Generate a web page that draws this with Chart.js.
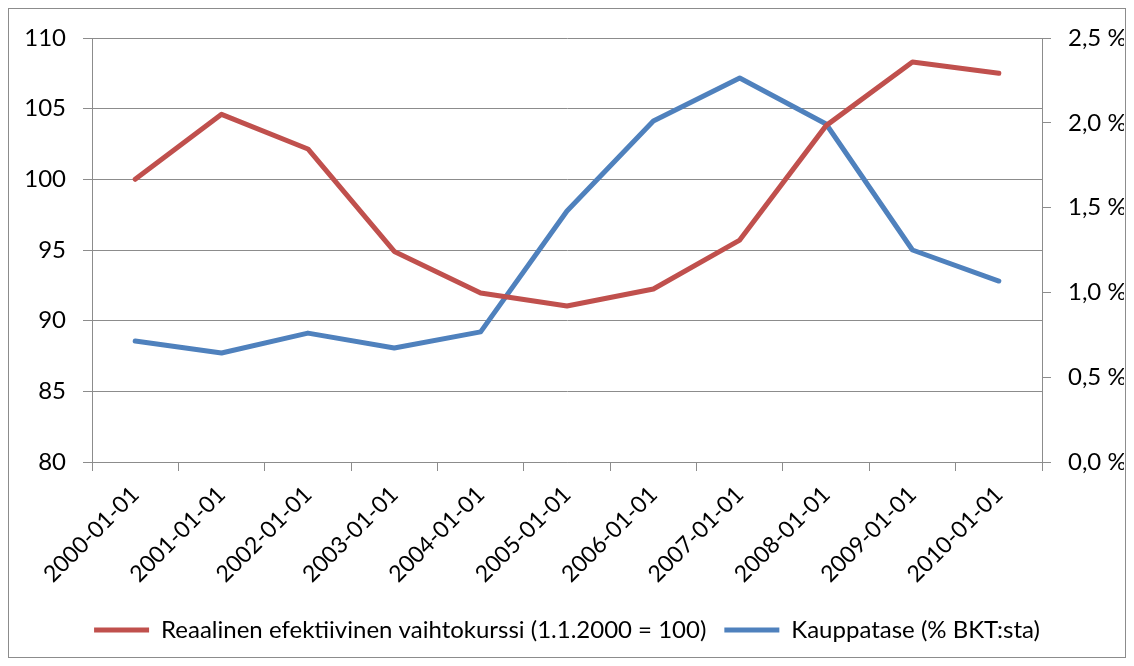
<!DOCTYPE html>
<html>
<head>
<meta charset="utf-8">
<script src="https://cdn.jsdelivr.net/npm/chart.js@4"></script>
<style>
html,body{margin:0;padding:0;background:#fff;}
#wrap{position:relative;width:1134px;height:666px;}
</style>
</head>
<body>
<div id="wrap"><canvas id="c" width="1134" height="666"></canvas></div>
<script>
const categories = ["2000-01-01","2001-01-01","2002-01-01","2003-01-01","2004-01-01","2005-01-01","2006-01-01","2007-01-01","2008-01-01","2009-01-01","2010-01-01"];
const reerValues = [100.0, 104.6, 102.15, 94.9, 91.96, 91.04, 92.24, 95.7, 103.8, 108.3, 107.5];
const tradeBalanceValues = [0.713, 0.643, 0.76, 0.672, 0.767, 1.48, 2.01, 2.264, 1.993, 1.25, 1.067];
const seriesNames = ["Reaalinen efektiivinen vaihtokurssi (1.1.2000 = 100)", "Kauppatase (% BKT:sta)"];
const leftTicks = [80, 85, 90, 95, 100, 105, 110];
const rightTicks = [0, 0.5, 1.0, 1.5, 2.0, 2.5];

const FONT = "Lato";
const GRID = "#8c8c8c";

const framePlugin = {
  id: 'frame',
  afterDraw(chart) {
    const ctx = chart.ctx;
    ctx.save();
    ctx.strokeStyle = "#8c8c8c";
    ctx.lineWidth = 1;
    ctx.strokeRect(8.5, 8.5, 1134 - 17, 666 - 17);
    ctx.restore();
  }
};

new Chart(document.getElementById('c'), {
  type: 'line',
  data: {
    labels: categories,
    datasets: [
      {label: seriesNames[0], data: reerValues, borderColor: '#C0504D', backgroundColor: '#C0504D', borderWidth: 5, pointRadius: 0, yAxisID: 'y', tension: 0, borderCapStyle: 'round', borderJoinStyle: 'round'},
      {label: seriesNames[1], data: tradeBalanceValues, borderColor: '#4F81BD', backgroundColor: '#4F81BD', borderWidth: 5, pointRadius: 0, yAxisID: 'y2', tension: 0, borderCapStyle: 'round', borderJoinStyle: 'round'}
    ]
  },
  options: {
    responsive: false,
    animation: false,
    layout: {padding: {left: 10, right: 10, top: 38, bottom: 14}},
    plugins: {
      tooltip: {enabled: false},
      legend: {
        position: 'bottom',
        labels: {
          font: {family: FONT, size: 24},
          color: '#000',
          boxWidth: 55,
          boxHeight: 5,
          padding: 18,
          generateLabels(chart) {
            return chart.data.datasets.map((ds, i) => ({
              text: ds.label, fillStyle: ds.borderColor, strokeStyle: ds.borderColor,
              lineWidth: 0, hidden: false, datasetIndex: i, fontColor: '#000'
            }));
          }
        }
      }
    },
    scales: {
      x: {
        offset: true,
        afterFit(s) { s.height = 138; },
        grid: {offset: true, drawOnChartArea: false, color: GRID, tickLength: 9, tickColor: GRID},
        border: {color: GRID, width: 1},
        ticks: {font: {family: FONT, size: 23}, color: '#000', maxRotation: 45, minRotation: 45, padding: 10, autoSkip: false}
      },
      y: {
        position: 'left',
        min: 80, max: 110,
        afterFit(s) { s.width = 82; },
        afterBuildTicks(s) { s.ticks = leftTicks.map(v => ({value: v})); },
        grid: {color: GRID, tickLength: 9, tickColor: GRID},
        border: {color: GRID, width: 1},
        ticks: {font: {family: FONT, size: 24}, color: '#000', padding: 17}
      },
      y2: {
        position: 'right',
        min: 0, max: 2.5,
        afterFit(s) { s.width = 82; },
        afterBuildTicks(s) { s.ticks = rightTicks.map(v => ({value: v})); },
        grid: {drawOnChartArea: false, color: GRID, tickLength: 9, tickColor: GRID},
        border: {color: GRID, width: 1},
        ticks: {font: {family: FONT, size: 24}, color: '#000', padding: 17,
          callback: v => v.toFixed(1).replace('.', ',') + ' %'}
      }
    }
  },
  plugins: [framePlugin]
});
</script>
</body>
</html>
